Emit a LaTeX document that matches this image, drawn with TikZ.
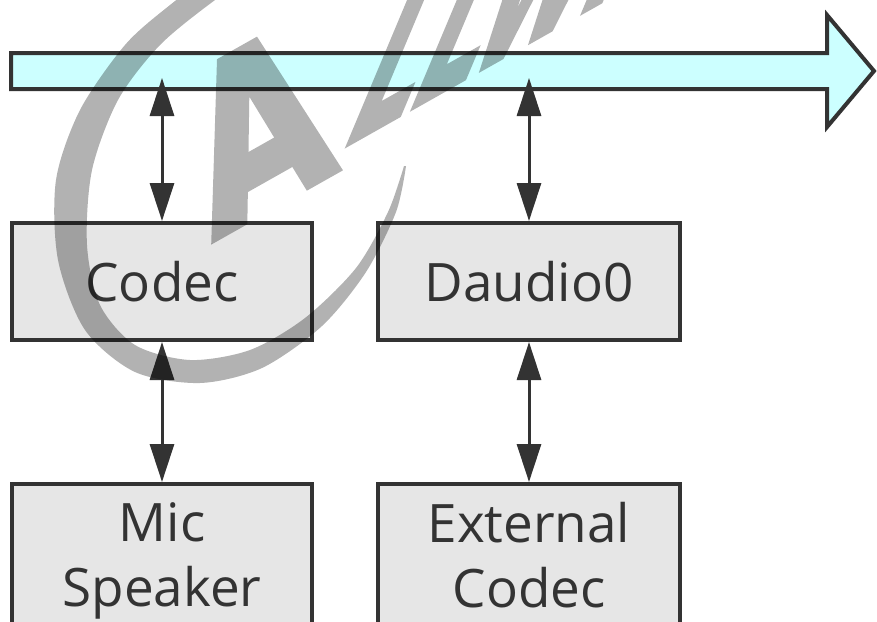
\documentclass[tikz,border=0pt]{standalone}
\usepackage{fontspec}
\setmainfont{Open Sans}
\newfontfamily\wmfont[BoldFeatures={FakeBold=3}]{DejaVu Sans}
\usetikzlibrary{arrows.meta}
\definecolor{busfill}{HTML}{CCFFFF}
\definecolor{boxfill}{HTML}{E6E6E6}
\definecolor{ink}{HTML}{333333}
\begin{document}
\begin{tikzpicture}[x=1pt,y=-1pt,
  blockbox/.style={draw=ink, fill=boxfill, line width=4pt, minimum width=300pt,
    inner sep=0pt, text=ink, font=\fontsize{53}{65}\selectfont, align=center},
  blocktext/.style={inner sep=0pt, text=ink, font=\fontsize{53}{65}\selectfont, align=center},
  dblarrow/.style={draw=ink, line width=3pt,
    {Triangle[length=38pt,width=24pt]}-{Triangle[length=38pt,width=24pt]}},
  wmark/.style={inner sep=0pt, fill=none, text=black, anchor=base west}
]
\useasboundingbox (0,0) rectangle (877,621);
\clip (0,0) rectangle (877,621);

% bus arrow
\draw[ink, line width=4pt, line join=miter, fill=busfill]
  (11,53) -- (827,53) -- (827,15) -- (874,71) -- (827,127) -- (827,89) -- (11,89) -- cycle;
\coordinate (busc) at (162,78);
\coordinate (busd) at (529,78);

% boxes
\node[blockbox, minimum height=117pt] (codec) at (162,281.5) {Codec};
\node[blockbox, minimum width=302pt, minimum height=117pt] (daudio) at (529,281.5) {Daudio0};
\node[blockbox, minimum height=200pt, anchor=north] (mic) at (162,482) {};
\node[blockbox, minimum width=302pt, minimum height=200pt, anchor=north] (ext) at (529,482) {};
\node[blocktext, anchor=north] (mictext) at (162,502) {Mic\\Speaker};
\node[blocktext, anchor=north] (exttext) at (529,502) {External\\Codec};

% connectors
\draw[dblarrow] (busc) -- (codec.north);
\draw[dblarrow] (busd) -- (daudio.north);
\draw[dblarrow] (codec.south) -- (mic.north);
\draw[dblarrow] (daudio.south) -- (ext.north);

% watermark
\begin{scope}[transparency group, opacity=0.3]
\fill[black] plot[smooth] coordinates {(406,166) (396,212) (366,272) (322,326) (262,368) (200,383) (135,372) (85,330) (58,260) (56,180) (80,110) (125,45) (170,5) (230,-40)}
  -- plot[smooth] coordinates {(260,-30) (215,0) (160,45) (118,100) (92,170) (87,245) (100,305) (135,345) (190,360) (250,350) (305,318) (356,268) (388,212) (404,166)} -- cycle;
\node[wmark, yslant=0.564, xslant=-0.22, xscale=0.68, font=\wmfont\bfseries\fontsize{240}{240}\selectfont] (wmA) at (213,240) {A};
\node[wmark, yslant=0.564, xslant=0.55, xscale=0.66, font=\wmfont\bfseries\fontsize{155}{155}\selectfont] (wmB) at (338,150) {LLWI};
\end{scope}
\end{tikzpicture}
\end{document}
